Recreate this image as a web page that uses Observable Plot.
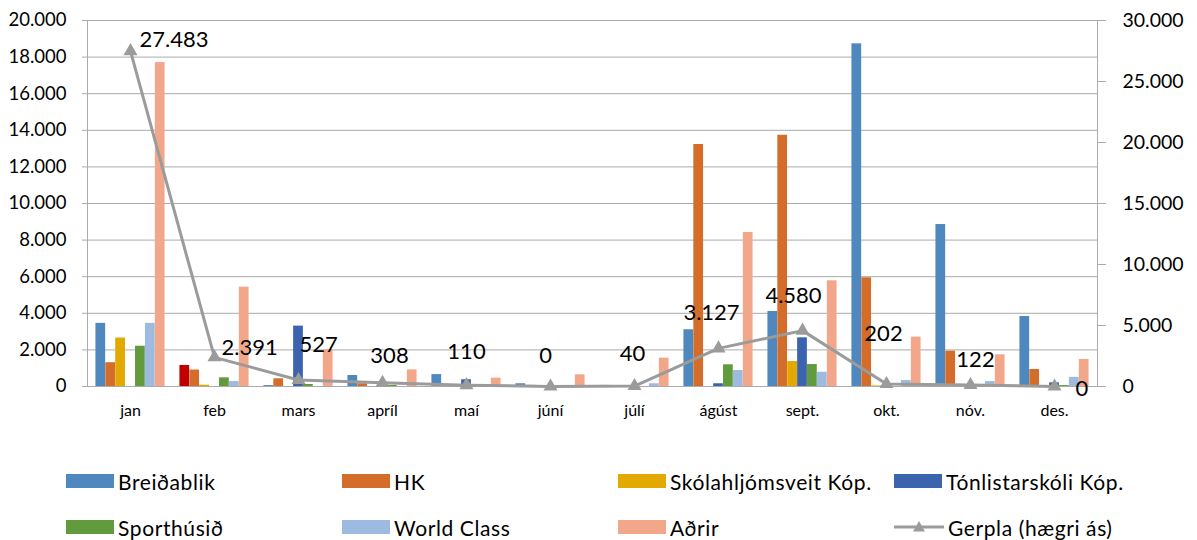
<!DOCTYPE html>
<html>
<head>
<meta charset="utf-8">
<script src="https://cdn.jsdelivr.net/npm/d3@7"></script>
<script src="https://cdn.jsdelivr.net/npm/@observablehq/plot@0.6"></script>
<style>
  html, body { margin: 0; padding: 0; background: #fff; overflow: hidden; }
  body { font-family: Lato, "Open Sans", sans-serif; color: #000; }
  #chart svg { display: block; }
  #legend {
    display: grid;
    grid-template-columns: repeat(4, 276px);
    grid-auto-rows: 46px;
    padding-left: 66px;
    margin-top: 8px;
    font-size: 21px;
    letter-spacing: 0.6px;
  }
  .item { display: flex; align-items: center; white-space: nowrap; }
  .sw { width: 48px; height: 14px; margin-right: 4px; flex: none; }
  .item svg { margin-right: 4px; flex: none; }
</style>
</head>
<body>
<div id="chart"></div>
<div id="legend"></div>
<script>
// ---- data ----
const months = ["jan", "feb", "mars", "apríl", "maí", "júní", "júlí", "ágúst", "sept.", "okt.", "nóv.", "des."];
const seriesNames = ["Breiðablik", "HK", "Skólahljómsveit Kóp.", "Tónlistarskóli Kóp.", "Sporthúsið", "World Class", "Aðrir"];
const breidablik = [3450, 1150, 50, 600, 650, 150, 60, 3100, 4100, 18725, 8850, 3825];
const hk         = [1300, 900, 420, 150, 30, 60, 0, 13225, 13730, 5940, 1930, 930];
const skolahljom = [2650, 70, 0, 0, 0, 0, 0, 0, 1365, 30, 0, 0];
const tonlist    = [0, 0, 3300, 0, 370, 0, 0, 150, 2660, 40, 0, 200];
const sporthus   = [2200, 475, 110, 60, 0, 0, 0, 1185, 1200, 0, 50, 50];
const worldClass = [3450, 270, 0, 0, 0, 0, 150, 875, 780, 330, 270, 500];
const adrir      = [17700, 5430, 2000, 910, 455, 640, 1550, 8415, 5775, 2700, 1730, 1475];
const gerpla     = [27483, 2391, 527, 308, 110, 0, 40, 3127, 4580, 202, 122, 0];
const gerplaName = "Gerpla (hægri ás)";
const leftTicks  = [0, 2000, 4000, 6000, 8000, 10000, 12000, 14000, 16000, 18000, 20000];
const rightTicks = [0, 5000, 10000, 15000, 20000, 25000, 30000];

// ---- styles ----
const colors = ["#4e88be", "#d46d2a", "#e2a900", "#3c63ad", "#629a3e", "#9dbbe1", "#f2a78b"];
const highlight = {series: "Breiðablik", month: "feb", color: "#c00000"};
const lineColor = "#9b9b9b";
const gridColor = "#ababab";
const font = "Lato, 'Open Sans', sans-serif";

const W = 1197, H = 450, mL = 87, mR = 100, mT = 20, mB = 64;
const leftMax = 20000, rightMax = 30000;
const toLeft = v => v * leftMax / rightMax;

const locale = d3.formatLocale({decimal: ",", thousands: ".", grouping: [3], currency: ["", " kr."]});
const fmt = locale.format(",.0f");

const seriesValues = [breidablik, hk, skolahljom, tonlist, sporthus, worldClass, adrir];
const table = seriesNames.flatMap((s, i) => seriesValues[i].map((v, j) => ({month: months[j], series: s, si: i, value: v})));
const gerplaData = months.map((m, j) => ({month: m, value: gerpla[j]}));

// clustered bar geometry (gap width 150% of bar)
const bw = (W - mL - mR) / months.length;
const barW = bw / (seriesNames.length + 1.5);
const off0 = 0.75 * barW;

const barMarks = seriesNames.map((s, i) => Plot.barY(table.filter(d => d.si === i), {
  x: "month",
  y: "value",
  fill: d => (d.series === highlight.series && d.month === highlight.month) ? highlight.color : colors[i],
  insetLeft: off0 + i * barW,
  insetRight: bw - off0 - (i + 1) * barW
}));

// data label placement (anchor, dx, dy) per month
const labelPlace = {
  "jan": ["start", 9, -11], "feb": ["start", 7, -9], "mars": ["start", 1, -35],
  "apríl": ["middle", 7, -27], "maí": ["middle", 0, -33], "júní": ["middle", -5, -31],
  "júlí": ["middle", -2, -32], "ágúst": ["middle", -7, -35], "sept.": ["middle", -9, -35],
  "okt.": ["middle", -3, -50], "nóv.": ["middle", 5, -25], "des.": ["start", 21, 2]
};
const labelMarks = gerplaData.map(d => {
  const [anchor, dx, dy] = labelPlace[d.month];
  return Plot.text([d], {x: "month", y: e => toLeft(e.value), text: e => fmt(e.value),
    textAnchor: anchor, dx, dy, fontSize: 22, fill: "#000", fontFamily: font});
});

const chart = Plot.plot({
  width: W, height: H,
  marginLeft: mL, marginRight: mR, marginTop: mT, marginBottom: mB,
  style: {fontFamily: font, background: "#fff", overflow: "visible"},
  x: {domain: months, padding: 0, axis: null},
  y: {domain: [0, leftMax], axis: null},
  color: {type: "identity"},
  marks: [
    Plot.gridY(leftTicks, {stroke: gridColor, strokeOpacity: 1}),
    Plot.axisY(leftTicks, {anchor: "left", tickFormat: fmt, tickSize: 5, tickPadding: 16, stroke: gridColor, fill: "#000", fontSize: 18.5, label: null}),
    Plot.axisY(rightTicks.map(toLeft), {anchor: "right", tickFormat: v => fmt(v * rightMax / leftMax), tickSize: 8, tickPadding: 17, stroke: gridColor, fill: "#000", fontSize: 19.5, label: null}),
    Plot.axisX({anchor: "bottom", tickSize: 0, tickPadding: 18, fontSize: 16, fill: "#000", label: null}),
    ...barMarks,
    Plot.frame({stroke: gridColor}),
    Plot.line(gerplaData, {x: "month", y: d => toLeft(d.value), stroke: lineColor, strokeWidth: 3}),
    Plot.dot(gerplaData, {x: "month", y: d => toLeft(d.value), symbol: "triangle", r: 5.2, fill: lineColor, stroke: "none"}),
    ...labelMarks
  ]
});
document.getElementById("chart").appendChild(chart);

// ---- legend ----
const legend = document.getElementById("legend");
seriesNames.forEach((name, i) => {
  const it = document.createElement("div");
  it.className = "item";
  it.innerHTML = `<span class="sw" style="background:${colors[i]}"></span><span>${name}</span>`;
  legend.appendChild(it);
});
const gi = document.createElement("div");
gi.className = "item";
gi.innerHTML = `<svg width="50" height="16" viewBox="0 0 50 16"><line x1="0" y1="8" x2="50" y2="8" stroke="${lineColor}" stroke-width="3"/><path d="M25,2 L31,12.5 L19,12.5 Z" fill="${lineColor}"/></svg><span>${gerplaName}</span>`;
legend.appendChild(gi);
</script>
</body>
</html>
